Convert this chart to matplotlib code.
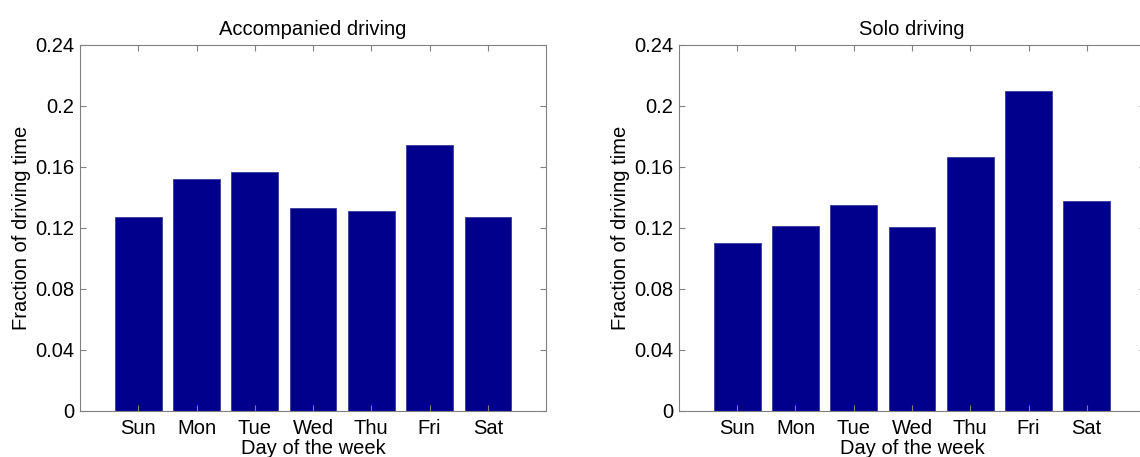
import numpy as np
import matplotlib
matplotlib.use("Agg")
import matplotlib.pyplot as plt

# data
days = ["Sun", "Mon", "Tue", "Wed", "Thu", "Fri", "Sat"]
accompanied = [0.1272, 0.1521, 0.1565, 0.1329, 0.1311, 0.1744, 0.1270]
solo = [0.1100, 0.1215, 0.1351, 0.1204, 0.1668, 0.2100, 0.1379]
yticks = [0, 0.04, 0.08, 0.12, 0.16, 0.2, 0.24]
ytick_labels = ["0", "0.04", "0.08", "0.12", "0.16", "0.2", "0.24"]

plt.rcParams["font.family"] = ["Liberation Sans", "DejaVu Sans"]
FS = 14.5
BAR_COLOR = "#00008c"
AX_COLOR = "#808080"

fig = plt.figure(figsize=(11.4, 4.57), dpi=100)

# axes boxes in figure fractions (right panel runs slightly past the edge, as in the source)
ax1 = fig.add_axes([0.0702, 0.1007, 0.4088, 0.8009])
ax2 = fig.add_axes([0.5956, 0.1007, 0.4088, 0.8009])

x = np.arange(1, len(days) + 1)

for ax, vals, title in [(ax1, accompanied, "Accompanied driving"),
                        (ax2, solo, "Solo driving")]:
    ax.bar(x, vals, width=0.8, color=BAR_COLOR, edgecolor="#3a3a9a", linewidth=0.6)
    ax.set_xlim(0, 8)
    ax.set_ylim(0, 0.24)
    ax.set_xticks(x)
    ax.set_xticklabels(days)
    ax.set_yticks(yticks)
    ax.set_yticklabels(ytick_labels)
    ax.tick_params(direction="in", length=4, width=0.8, color=AX_COLOR,
                   top=True, right=True, labelsize=FS, pad=4)
    ax.tick_params(axis="x", pad=6)
    for sp in ax.spines.values():
        sp.set_color(AX_COLOR)
        sp.set_linewidth(0.8)
    ax.set_title(title, fontsize=FS, pad=7)
    # label sits right under the tick labels, as in the original
    ax.set_xlabel("Day of the week", fontsize=FS, labelpad=0.5)
    ax.set_ylabel("Fraction of driving time", fontsize=FS, labelpad=3)

fig.savefig("out.png", dpi=100)
